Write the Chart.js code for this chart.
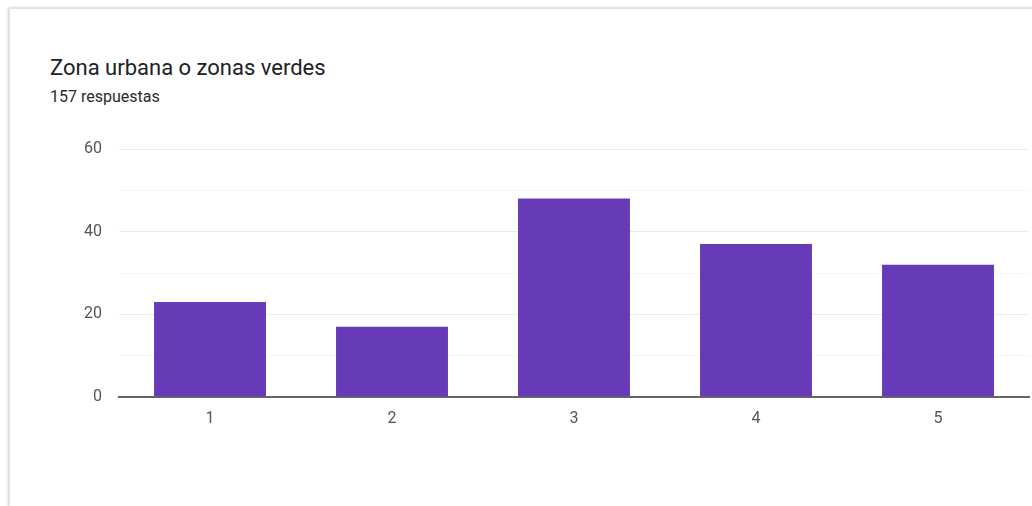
<!DOCTYPE html>
<html>
<head>
<meta charset="utf-8">
<script src="https://cdn.jsdelivr.net/npm/chart.js@4.4.0/dist/chart.umd.min.js"></script>
<style>
  html, body { margin: 0; padding: 0; background: #fff; width: 1032px; height: 506px; overflow: hidden; }
  .card {
    position: absolute; left: 9px; top: 8px; width: 1060px; height: 497px;
    background: #fff; border: 1px solid #e3e3e3;
    box-shadow: -1px 0 3px rgba(0,0,0,0.18), 0 -1px 2px rgba(0,0,0,0.06);
  }
  .title {
    position: absolute; left: 50px; top: 55px; font-family: Roboto, sans-serif;
    font-size: 22px; color: #202124;
  }
  .sub {
    position: absolute; left: 50px; top: 87px; font-family: Roboto, sans-serif;
    font-size: 16px; color: #2a2a2a;
  }
  #wrap { position: absolute; left: 0; top: 0; width: 1032px; height: 506px; }
</style>
</head>
<body>
<div class="card"></div>
<div class="title">Zona urbana o zonas verdes</div>
<div class="sub">157 respuestas</div>
<div id="wrap"><canvas id="myChart"></canvas></div>
<script>
// datos
const categories = ["1", "2", "3", "4", "5"];
const counts = [23, 17, 48, 37, 32];
const yTicks = [0, 20, 40, 60];

const data = {
    labels: categories,
    datasets: [{
        label: 'respuestas',
        backgroundColor: '#673ab7',
        data: counts,
        categoryPercentage: 0.615,
        barPercentage: 1.0
    }]
};

const config = {
    type: 'bar',
    data,
    options: {
        responsive: false,
        animation: false,
        layout: { padding: { left: 0, top: 149, right: 3, bottom: 70 } },
        plugins: { legend: { display: false }, tooltip: { enabled: false } },
        scales: {
            x: {
                grid: { display: false, drawTicks: false },
                border: { color: '#666', width: 2 },
                ticks: { color: '#555', font: { family: 'Roboto', size: 16 }, padding: 12 },
                afterFit: (s) => { s.height = 39; }
            },
            y: {
                min: 0, max: 60,
                border: { display: false },
                grid: {
                    drawTicks: false,
                    color: (ctx) => {
                        const v = ctx.tick ? ctx.tick.value : 0;
                        if (v === 0) return 'rgba(0,0,0,0)';
                        return yTicks.includes(v) ? '#ebebeb' : '#f6f6f6';
                    }
                },
                ticks: {
                    stepSize: 10,
                    color: '#555',
                    font: { family: 'Roboto', size: 16 },
                    padding: 17,
                    callback: (v) => yTicks.includes(v) ? v : ''
                },
                afterFit: (s) => { s.width = 119; }
            }
        }
    }
};

const canvas = document.getElementById('myChart');
canvas.width = 1032;
canvas.height = 506;
new Chart(canvas, config);
</script>
</body>
</html>
